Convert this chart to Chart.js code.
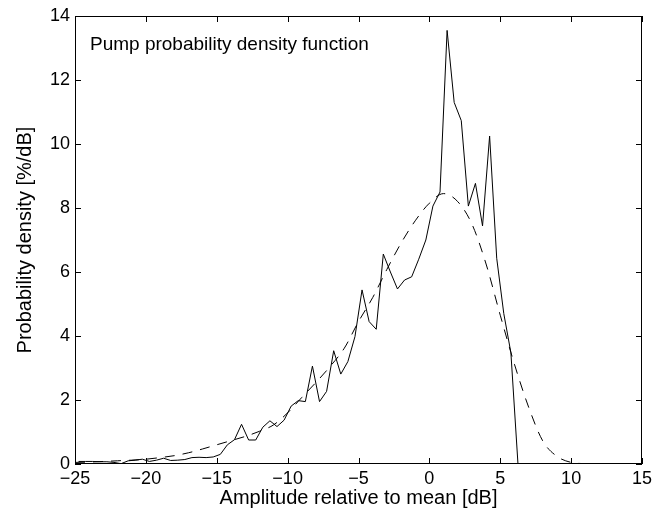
<!DOCTYPE html>
<html>
<head>
<meta charset="utf-8">
<script src="https://cdn.jsdelivr.net/npm/chart.js@4.4.1/dist/chart.umd.min.js"></script>
<style>
  html, body { margin: 0; padding: 0; background: #fff; }
  #wrap { width: 668px; height: 520px; }
</style>
</head>
<body>
<div id="wrap"><canvas id="myChart" width="668" height="520"></canvas></div>
<script>
// measured histogram, bin centres in dB
binCenters = [-24.75, -24.25, -23.75, -23.25, -22.75, -22.25, -21.75, -21.25, -20.75, -20.25,
    -19.75, -19.25, -18.75, -18.25, -17.75, -17.25, -16.75, -16.25, -15.75, -15.25,
    -14.75, -14.25, -13.75, -13.25, -12.75, -12.25, -11.75, -11.25, -10.75, -10.25,
    -9.75, -9.25, -8.75, -8.25, -7.75, -7.25, -6.75, -6.25, -5.75, -5.25,
    -4.75, -4.25, -3.75, -3.25, -2.75, -2.25, -1.75, -1.25, -0.75, -0.25,
    0.25, 0.75, 1.25, 1.75, 2.25, 2.75, 3.25, 3.75, 4.25, 4.75,
    5.25, 5.75, 6.25, 6.75];
measured = [0.08, 0.08, 0.08, 0.07, 0.07, 0.05, 0.01, 0.10, 0.12, 0.15,
    0.08, 0.12, 0.18, 0.11, 0.12, 0.14, 0.20, 0.21, 0.20, 0.22,
    0.30, 0.60, 0.76, 1.24, 0.75, 0.75, 1.15, 1.35, 1.17, 1.37,
    1.81, 1.98, 1.95, 3.06, 1.95, 2.27, 3.54, 2.81, 3.20, 3.98,
    5.44, 4.45, 4.21, 6.56, 6.00, 5.47, 5.75, 5.85, 6.40, 7.00,
    8.06, 8.50, 13.55, 11.30, 10.73, 8.06, 8.77, 7.44, 10.25, 6.43,
    4.70, 3.48, 0, 0];

// fitted density (dashed)
fitX = [-25, -24, -23, -22, -21, -20, -19, -18, -17, -16, -15, -14, -13, -12, -11, -10,
    -9, -8, -7, -6, -5, -4, -3, -2, -1, 0, 1, 2, 3, 4, 5, 6, 7, 8, 9, 10, 11, 12];
fitValues = [0.05, 0.06, 0.08, 0.10, 0.12, 0.15, 0.20, 0.26, 0.35, 0.47, 0.60, 0.73, 0.86, 1.02, 1.22, 1.60,
    2.08, 2.55, 3.05, 3.62, 4.45, 5.20, 6.08, 6.90, 7.60, 8.15, 8.45, 8.20, 7.50, 6.25, 4.65, 3.12, 1.78, 0.72, 0.24, 0.05, 0.01, 0.0];

xTicks = [-25, -20, -15, -10, -5, 0, 5, 10, 15];
yTicks = [0, 2, 4, 6, 8, 10, 12, 14];

plotNote = 'Pump probability density function';
xLabel = 'Amplitude relative to mean [dB]';
yLabel = 'Probability density [%/dB]';

FONT = "'Liberation Sans', Arial, Helvetica, sans-serif";

function to_points(xs, ys) {
    pts = [];
    xs.forEach((v, i) => { pts.push({ x: v, y: ys[i] }) });
    return pts;
}

// matlab style box with inward ticks, plus the note in the corner
const boxTicks = {
    id: 'boxTicks',
    afterDatasetsDraw(chart) {
        const { ctx, chartArea: a, scales } = chart;
        const tl = 6;
        ctx.save();
        ctx.strokeStyle = '#000';
        ctx.lineWidth = 1;
        ctx.beginPath();
        xTicks.forEach(v => {
            px = Math.round(scales.x.getPixelForValue(v)) + 0.5;
            ctx.moveTo(px, a.bottom); ctx.lineTo(px, a.bottom - tl);
            ctx.moveTo(px, a.top); ctx.lineTo(px, a.top + tl);
        });
        yTicks.forEach(v => {
            py = Math.round(scales.y.getPixelForValue(v)) + 0.5;
            ctx.moveTo(a.left, py); ctx.lineTo(a.left + tl, py);
            ctx.moveTo(a.right, py); ctx.lineTo(a.right - tl, py);
        });
        ctx.stroke();
        ctx.strokeRect(Math.round(a.left) + 0.5, Math.round(a.top) + 0.5,
            Math.round(a.width) - 1, Math.round(a.height) - 1);

        ctx.fillStyle = '#000';
        ctx.font = '19px ' + FONT;
        ctx.textAlign = 'left';
        ctx.textBaseline = 'alphabetic';
        ctx.fillText(plotNote, a.left + 15, a.top + 34);
        ctx.restore();
    }
};

const ctx = document.getElementById('myChart');
const data = {
    datasets: [{
        label: 'measured',
        data: to_points(binCenters, measured),
        borderColor: '#000',
        borderWidth: 1,
        pointRadius: 0,
        tension: 0
    }, {
        label: 'fit',
        data: to_points(fitX, fitValues),
        borderColor: '#000',
        borderWidth: 1,
        borderDash: [10, 8],
        pointRadius: 0,
        cubicInterpolationMode: 'monotone'
    }]
};

const config = {
    type: 'line',
    data: data,
    plugins: [boxTicks],
    options: {
        responsive: false,
        animation: false,
        layout: { padding: { top: 16, right: 26, left: 0, bottom: 0 } },
        scales: {
            x: {
                type: 'linear',
                min: -25,
                max: 15,
                afterFit: (s) => { s.height = 56 },
                afterBuildTicks: (s) => { s.ticks = xTicks.map(v => ({ value: v })) },
                grid: { display: false, drawTicks: false },
                border: { display: false },
                ticks: {
                    color: '#000',
                    padding: 4,
                    maxRotation: 0,
                    font: { family: FONT, size: 18 },
                    callback: (v) => String(v).replace('-', '\u2212')
                },
                title: {
                    display: true,
                    text: xLabel,
                    color: '#000',
                    font: { family: FONT, size: 20 },
                    padding: { top: 0, bottom: 10 }
                }
            },
            y: {
                type: 'linear',
                min: 0,
                max: 14,
                afterFit: (s) => { s.width = 75 },
                afterBuildTicks: (s) => { s.ticks = yTicks.map(v => ({ value: v })) },
                grid: { display: false, drawTicks: false },
                border: { display: false },
                ticks: {
                    color: '#000',
                    padding: 5,
                    font: { family: FONT, size: 18 }
                },
                title: {
                    display: true,
                    text: yLabel,
                    color: '#000',
                    font: { family: FONT, size: 20 },
                    padding: { top: 13, bottom: 0 }
                }
            }
        },
        plugins: {
            legend: { display: false },
            tooltip: { enabled: false }
        }
    }
};

chart = new Chart(ctx, config);
</script>
</body>
</html>
